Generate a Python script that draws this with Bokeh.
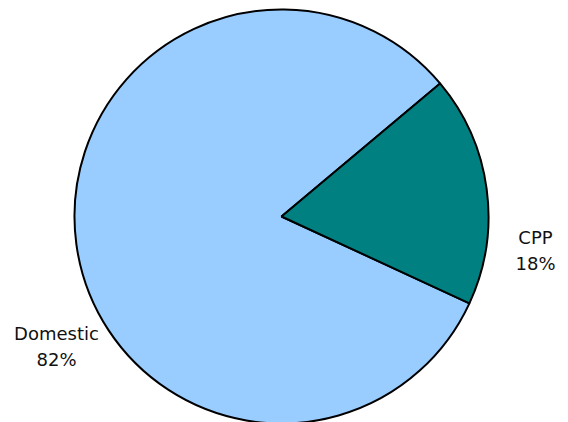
import math
from bokeh.plotting import figure
from bokeh.models import Range1d, ColumnDataSource
from bokeh.core.properties import value
from bokeh.embed import file_html
from bokeh.resources import INLINE

categories = ["Domestic", "CPP"]
values = [82, 18]
colors = ["#99CCFF", "#008080"]
pct_labels = ["82%", "18%"]

W, H = 560, 422
p = figure(width=W, height=H, output_backend="svg", toolbar_location=None,
           x_range=Range1d(0, W), y_range=Range1d(0, H), min_border=0)
p.axis.visible = False
p.grid.visible = False
p.outline_line_color = None
p.background_fill_color = "white"

cx, cy, r = 281, H - 216, 207
total = sum(values)
start0 = math.radians(40)
starts, ends = [], []
a = start0
for v in values:
    starts.append(a)
    a += v / total * 2 * math.pi
    ends.append(a)

src = ColumnDataSource(dict(cat=categories, val=values, color=colors,
                            start=starts, end=ends))
p.wedge(x=cx, y=cy, radius=r, start_angle="start", end_angle="end",
        fill_color="color", line_color="black", line_width=2, source=src)

label_pos = {"Domestic": (56, H - 346), "CPP": (535, H - 250)}
lx = [label_pos[c][0] for c in categories]
ly = [label_pos[c][1] for c in categories]
lsrc = ColumnDataSource(dict(x=lx, y1=[y + 13 for y in ly], y2=[y - 13 for y in ly],
                             name=categories, pct=pct_labels))
for col, ys in (("name", "y1"), ("pct", "y2")):
    p.text(x="x", y=ys, text=col, source=lsrc, text_align="center",
           text_baseline="middle", text_font=value("DejaVu Sans"),
           text_font_size="18px", text_color="#111111")

open("out.html", "w").write(file_html(p, INLINE))
